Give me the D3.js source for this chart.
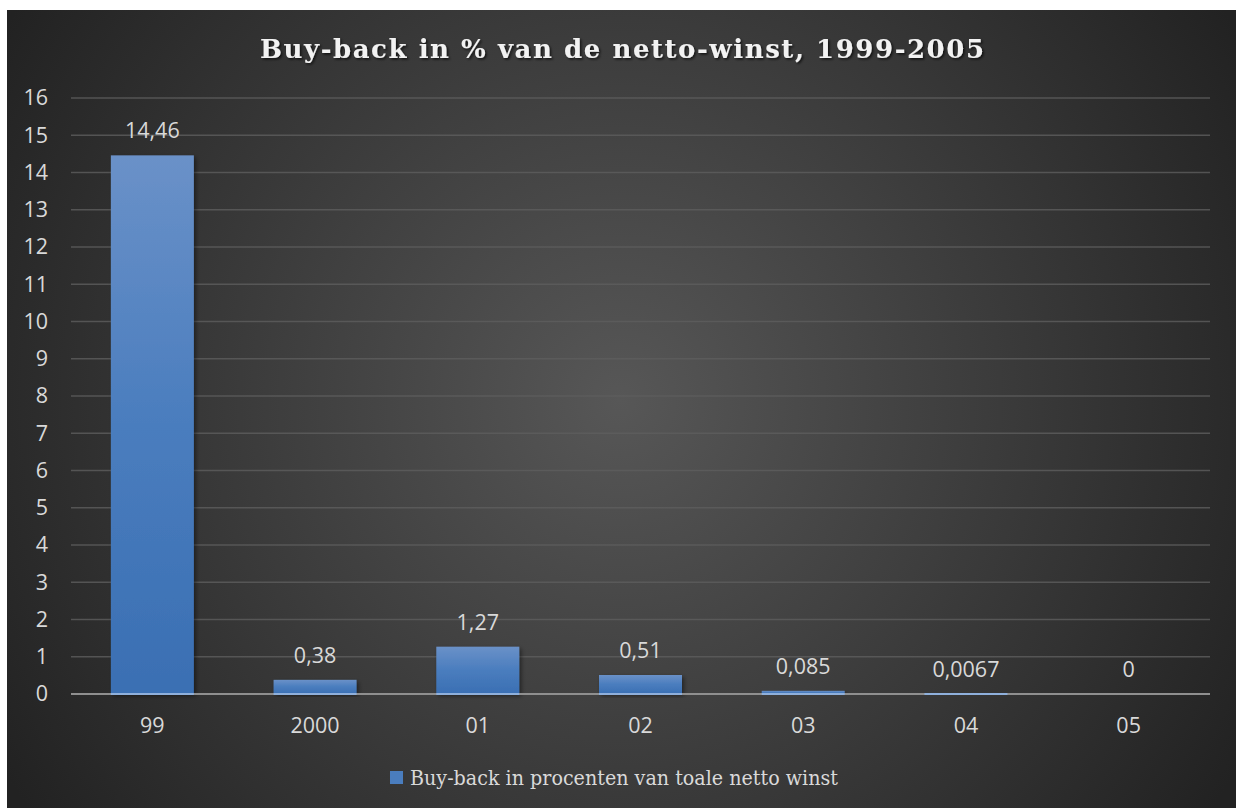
<!DOCTYPE html>
<html><head><meta charset="utf-8">
<script src="https://cdn.jsdelivr.net/npm/d3@7"></script>
<style>html,body{margin:0;padding:0;background:#fff;}svg{display:block;}</style>
</head><body>
<svg id="chart" width="1236" height="808"></svg>
<script>
const categories = ["99","2000","01","02","03","04","05"];
const values = [14.46,0.38,1.27,0.51,0.085,0.0067,0];
const valueLabels = ["14,46","0,38","1,27","0,51","0,085","0,0067","0"];
const yTicks = [0,1,2,3,4,5,6,7,8,9,10,11,12,13,14,15,16];
const titleText = "Buy-back in % van de netto-winst, 1999-2005";
const legendText = "Buy-back in procenten van toale netto winst";

const svg = d3.select("#chart");
const defs = svg.append("defs");
const rg = defs.append("radialGradient").attr("id","bg").attr("gradientUnits","userSpaceOnUse")
  .attr("cx",620).attr("cy",400).attr("r",720);
rg.append("stop").attr("offset","0").attr("stop-color","#575757");
rg.append("stop").attr("offset","1").attr("stop-color","#222222");
const lg = defs.append("linearGradient").attr("id","bar").attr("x1",0).attr("y1",0).attr("x2",0).attr("y2",1);
lg.append("stop").attr("offset","0").attr("stop-color","#6a91c8");
lg.append("stop").attr("offset","0.5").attr("stop-color","#4a7dbe");
lg.append("stop").attr("offset","1").attr("stop-color","#3a6fb3");
const sh = defs.append("filter").attr("id","shadow").attr("x","-20%").attr("y","-20%").attr("width","140%").attr("height","140%");
sh.append("feDropShadow").attr("dx",2).attr("dy",2).attr("stdDeviation",2).attr("flood-color","#000").attr("flood-opacity",0.45);
const tsh = defs.append("filter").attr("id","tshadow");
tsh.append("feDropShadow").attr("dx",1.5).attr("dy",1.5).attr("stdDeviation",1.2).attr("flood-color","#000").attr("flood-opacity",0.7);

svg.append("rect").attr("x",7).attr("y",10).attr("width",1229).attr("height",798).attr("fill","url(#bg)");

const x = d3.scaleBand().domain(categories).range([71,1210]).paddingInner(0.49).paddingOuter(0.245);
const y = d3.scaleLinear().domain([0,16]).range([694,98]);
const sansFont = "'Open Sans','Noto Sans',sans-serif";
const fs = "21.5px";

// gridlines
svg.append("g").selectAll("line").data(yTicks.filter(d=>d>0)).join("line")
  .attr("x1",71).attr("x2",1210).attr("y1",d=>y(d)).attr("y2",d=>y(d))
  .attr("stroke","#5e5e5e").attr("stroke-width",1.3).attr("opacity",0.8);

// y axis
const yAxis = svg.append("g").attr("transform","translate(48,0)")
  .call(d3.axisLeft(y).tickValues(yTicks).tickSize(0).tickPadding(0).tickFormat(d=>d));
yAxis.select(".domain").remove();
yAxis.selectAll("text").attr("fill","#d9d9d9").style("font-family",sansFont).style("font-size",fs);

// bars
svg.append("g").selectAll("rect").data(values).join("rect")
  .attr("x",(d,i)=>x(categories[i])).attr("width",x.bandwidth())
  .attr("y",d=>y(d)).attr("height",d=>y(0)-y(d))
  .attr("fill","url(#bar)").attr("filter","url(#shadow)");

// x axis
const xAxis = svg.append("g").attr("transform","translate(0,694)")
  .call(d3.axisBottom(x).tickSize(0).tickPadding(24));
xAxis.select(".domain").attr("stroke","#8f8f8f").attr("stroke-width",2).attr("d","M71,0H1210");
xAxis.selectAll("text").attr("fill","#d9d9d9").style("font-family",sansFont).style("font-size",fs);

// thin light line along bar bottoms
svg.append("g").selectAll("line").data(values.map((v,i)=>({v,i})).filter(d=>d.v>0)).join("line")
  .attr("x1",d=>x(categories[d.i])).attr("x2",d=>x(categories[d.i])+x.bandwidth())
  .attr("y1",y(0)).attr("y2",y(0)).attr("stroke","#8fb0dc").attr("stroke-width",2);

// data labels
svg.append("g").selectAll("text").data(values).join("text")
  .attr("x",(d,i)=>x(categories[i])+x.bandwidth()/2).attr("y",d=>y(d)-17)
  .attr("text-anchor","middle").attr("fill","#d9d9d9")
  .style("font-family",sansFont).style("font-size",fs)
  .text((d,i)=>valueLabels[i]);

// title
const title = svg.append("text").attr("x",622).attr("y",58).attr("text-anchor","middle")
  .attr("fill","#f2f2f2").attr("filter","url(#tshadow)")
  .style("font-family","'DejaVu Serif','Liberation Serif',serif").style("font-weight","bold").style("font-size","26px")
  .text(titleText);
{
  const w = title.node().getComputedTextLength();
  const n = titleText.length;
  const ls = (724 - w)/(n-1);
  title.style("letter-spacing", ls+"px").attr("x", 622 + ls/2);
}

// legend
svg.append("rect").attr("x",390).attr("y",771).attr("width",13).attr("height",13).attr("fill","#4a7dbe");
const lt = svg.append("text").attr("x",410).attr("y",785).attr("fill","#d9d9d9")
  .style("font-family","'DejaVu Serif','Liberation Serif',serif").style("font-size","21px")
  .text(legendText);
lt.attr("textLength",428).attr("lengthAdjust","spacingAndGlyphs");
</script>
</body></html>
